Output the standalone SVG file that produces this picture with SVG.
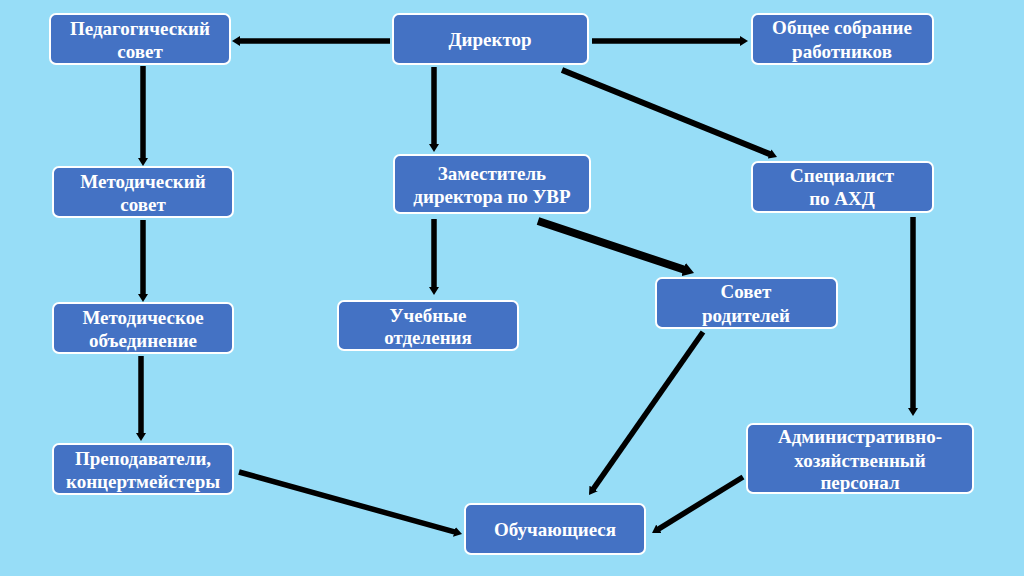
<svg xmlns="http://www.w3.org/2000/svg" width="1024" height="576" viewBox="0 0 1024 576">
<defs>
<style>
.box{fill:#4472C4;stroke:#FFFFFF;stroke-width:2}
.t{fill:#FFFFFF;font-family:"Liberation Serif","DejaVu Serif",serif;font-weight:bold;font-size:19px;text-anchor:middle}
.c{stroke:#000000;stroke-width:5.5;fill:none;marker-end:url(#ah)}
.c8{stroke:#000000;stroke-width:8;fill:none;marker-end:url(#ah2)}
</style>
<marker id="ah" markerUnits="userSpaceOnUse" viewBox="0 -5 8 10" refX="1" refY="0" markerWidth="8" markerHeight="10" orient="auto">
<path d="M0,-5 L8,0 L0,5 Z" fill="#000000"/>
</marker>
<marker id="ah2" markerUnits="userSpaceOnUse" viewBox="0 -7 11 14" refX="1" refY="0" markerWidth="11" markerHeight="14" orient="auto">
<path d="M0,-7 L11,0 L0,7 Z" fill="#000000"/>
</marker>
</defs>
<rect width="1024" height="576" fill="#97DDF7"/>
<g id="connectors">
<line class="c" x1="390" y1="41" x2="239" y2="41"/>
<line class="c" x1="592" y1="41" x2="741" y2="41"/>
<line class="c" x1="143" y1="66" x2="143" y2="159"/>
<line class="c" x1="434" y1="67" x2="434" y2="145"/>
<line class="c" x1="562" y1="70" x2="770.5" y2="154.4" style="stroke-width:6"/>
<line class="c" x1="434" y1="219" x2="434" y2="288"/>
<line class="c" x1="143" y1="220" x2="143" y2="295"/>
<line class="c" x1="141" y1="356" x2="141" y2="434"/>
<line class="c" x1="913" y1="217" x2="913" y2="409"/>
<line class="c8" x1="538" y1="221" x2="684.5" y2="269.8"/>
<line class="c" x1="703" y1="332" x2="593" y2="489.3"/>
<line class="c" x1="743" y1="477" x2="658" y2="529.3"/>
<line class="c" x1="239" y1="472" x2="455.3" y2="532.1"/>
</g>
<g id="ped-sovet">
<rect class="box" x="50" y="14" width="180" height="50" rx="6"/>
<text class="t" x="140" y="35">Педагогический</text>
<text class="t" x="140" y="58">совет</text>
</g>
<g id="direktor">
<rect class="box" x="393" y="14" width="195" height="50" rx="6"/>
<text class="t" x="490" y="46">Директор</text>
</g>
<g id="obshchee-sobranie">
<rect class="box" x="752" y="14" width="181" height="50" rx="6"/>
<text class="t" x="842" y="34">Общее собрание</text>
<text class="t" x="842" y="58">работников</text>
</g>
<g id="metod-sovet">
<rect class="box" x="53" y="167" width="180" height="50" rx="6"/>
<text class="t" x="143" y="188">Методический</text>
<text class="t" x="143" y="211">совет</text>
</g>
<g id="zamestitel">
<rect class="box" x="394" y="155" width="196" height="58" rx="6"/>
<text class="t" x="492" y="180">Заместитель</text>
<text class="t" x="492" y="203">директора по УВР</text>
</g>
<g id="specialist">
<rect class="box" x="752" y="162" width="181" height="50" rx="6"/>
<text class="t" x="842" y="182">Специалист</text>
<text class="t" x="842" y="205">по АХД</text>
</g>
<g id="metod-obedinenie">
<rect class="box" x="53" y="303" width="180" height="50" rx="6"/>
<text class="t" x="143" y="324">Методическое</text>
<text class="t" x="143" y="347">объединение</text>
</g>
<g id="uchebnye">
<rect class="box" x="338" y="301" width="180" height="49" rx="6"/>
<text class="t" x="428" y="322">Учебные</text>
<text class="t" x="428" y="344">отделения</text>
</g>
<g id="sovet-roditeley">
<rect class="box" x="656" y="278" width="181" height="50" rx="6"/>
<text class="t" x="746" y="298">Совет</text>
<text class="t" x="746" y="322">родителей</text>
</g>
<g id="prepodavateli">
<rect class="box" x="53" y="444" width="180" height="50" rx="6"/>
<text class="t" x="143" y="465">Преподаватели,</text>
<text class="t" x="143" y="488">концертмейстеры</text>
</g>
<g id="ahp">
<rect class="box" x="747" y="424" width="226" height="69" rx="6"/>
<text class="t" x="860" y="443">Административно-</text>
<text class="t" x="860" y="467">хозяйственный</text>
<text class="t" x="860" y="489">персонал</text>
</g>
<g id="obuchayushchiesya">
<rect class="box" x="465" y="504" width="180" height="50" rx="6"/>
<text class="t" x="555" y="536">Обучающиеся</text>
</g>
</svg>
